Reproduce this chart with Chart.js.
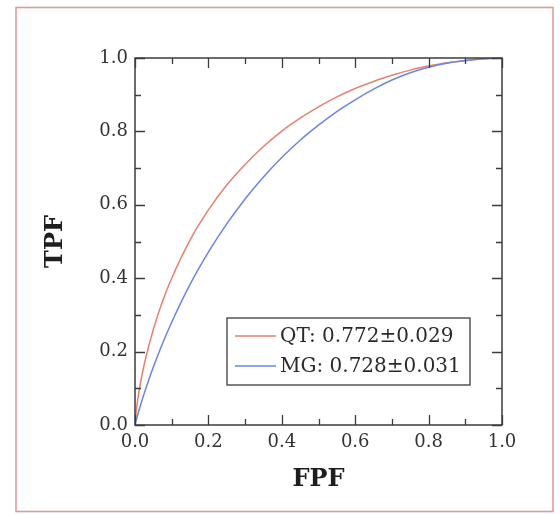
<!DOCTYPE html>
<html>
<head>
<meta charset="utf-8">
<script src="https://cdn.jsdelivr.net/npm/chart.js@4.4.1/dist/chart.umd.min.js"></script>
<style>
    html, body { margin: 0; padding: 0; background: #fff; }
    canvas { display: block; }
</style>
</head>
<body>
<canvas id="rocChart" width="560" height="514"></canvas>
<script>
// Points (FPF, TPF)
const fpfGrid = [0, 0.002, 0.005, 0.01, 0.02, 0.03, 0.05, 0.075, 0.1, 0.15, 0.2, 0.25, 0.3, 0.35,
    0.4, 0.45, 0.5, 0.55, 0.6, 0.65, 0.7, 0.75, 0.8, 0.85, 0.9, 0.95, 1.0];

const qtLabel = 'QT: 0.772\u00b10.029';
const qtTpf = [0, 0.025, 0.051, 0.086, 0.141, 0.186, 0.261, 0.337, 0.400, 0.504, 0.586, 0.654, 0.710, 0.759,
    0.801, 0.836, 0.867, 0.894, 0.917, 0.936, 0.953, 0.967, 0.978, 0.987, 0.993, 0.998, 1.0];

const mgLabel = 'MG: 0.728\u00b10.031';
const mgTpf = [0, 0.008, 0.019, 0.037, 0.070, 0.101, 0.158, 0.222, 0.280, 0.383, 0.471, 0.548, 0.616, 0.676,
    0.729, 0.776, 0.817, 0.854, 0.886, 0.915, 0.940, 0.960, 0.975, 0.986, 0.993, 0.998, 1.0];

const tickValues = [0, 0.1, 0.2, 0.3, 0.4, 0.5, 0.6, 0.7, 0.8, 0.9, 1.0];

const qtColor = '#e4826e';
const mgColor = '#6a86e0';
const axisColor = '#3c3c3c';
const serif = "'DejaVu Serif', 'Liberation Serif', serif";

function toPoints(xs, ys) {
    return xs.map((x, i) => ({ x: x, y: ys[i] }));
}

// Cadre rose, cadre du graphique et graduations vers l'intérieur
const framePlugin = {
    id: 'framePlugin',
    beforeDraw(chart) {
        const ctx = chart.ctx;
        ctx.save();
        ctx.fillStyle = '#ffffff';
        ctx.fillRect(0, 0, chart.width, chart.height);
        ctx.strokeStyle = '#e09a9a';
        ctx.lineWidth = 1.6;
        ctx.strokeRect(16, 7.5, 537, 504);
        ctx.restore();
    },
    afterDatasetsDraw(chart) {
        const ctx = chart.ctx;
        const a = chart.chartArea;
        const xs = chart.scales.x;
        const ys = chart.scales.y;
        ctx.save();
        ctx.strokeStyle = axisColor;
        ctx.lineWidth = 1.3;
        ctx.beginPath();
        tickValues.forEach((v, i) => {
            const len = i % 2 === 0 ? 10 : 6;
            const px = Math.round(xs.getPixelForValue(v)) + 0.5;
            const py = Math.round(ys.getPixelForValue(v)) + 0.5;
            ctx.moveTo(px, a.bottom); ctx.lineTo(px, a.bottom - len);
            ctx.moveTo(px, a.top); ctx.lineTo(px, a.top + len);
            ctx.moveTo(a.left, py); ctx.lineTo(a.left + len, py);
            ctx.moveTo(a.right, py); ctx.lineTo(a.right - len, py);
        });
        ctx.stroke();
        ctx.lineWidth = 1.5;
        ctx.strokeRect(a.left, a.top, a.right - a.left, a.bottom - a.top);
        ctx.restore();
    },
    afterDraw(chart) {
        // Légende encadrée dans la zone du graphique
        const ctx = chart.ctx;
        ctx.save();
        ctx.fillStyle = '#ffffff';
        ctx.fillRect(227, 318, 243, 67);
        ctx.strokeStyle = '#4a4a4a';
        ctx.lineWidth = 1.4;
        ctx.strokeRect(227, 318, 243, 67);
        ctx.font = '20px ' + serif;
        ctx.textBaseline = 'middle';
        ctx.fillStyle = '#2a2a2a';
        chart.data.datasets.forEach((ds, i) => {
            const y = 336 + i * 30;
            ctx.strokeStyle = ds.borderColor;
            ctx.lineWidth = 1.5;
            ctx.beginPath();
            ctx.moveTo(235, y);
            ctx.lineTo(276, y);
            ctx.stroke();
            ctx.fillText(ds.label, 280, y + 1);
        });
        ctx.restore();
    }
};

const ctx = document.getElementById('rocChart').getContext('2d');
new Chart(ctx, {
    type: 'line',
    data: {
        datasets: [{
            label: qtLabel,
            data: toPoints(fpfGrid, qtTpf),
            borderColor: qtColor,
            borderWidth: 1.5,
            pointRadius: 0,
            cubicInterpolationMode: 'monotone',
            fill: false,
            order: 1
        }, {
            label: mgLabel,
            data: toPoints(fpfGrid, mgTpf),
            borderColor: mgColor,
            borderWidth: 1.5,
            pointRadius: 0,
            cubicInterpolationMode: 'monotone',
            fill: false,
            order: 0
        }]
    },
    options: {
        responsive: false,
        animation: false,
        layout: {
            padding: { left: 0, top: 58, right: 58, bottom: 0 }
        },
        plugins: {
            legend: { display: false },
            tooltip: { enabled: false }
        },
        scales: {
            x: {
                type: 'linear',
                min: 0,
                max: 1,
                grid: { display: false, drawTicks: false },
                border: { display: false },
                ticks: {
                    stepSize: 0.2,
                    padding: 7,
                    color: '#333',
                    font: { family: serif, size: 18 },
                    callback: v => v.toFixed(1)
                },
                title: {
                    display: true,
                    text: 'FPF',
                    color: '#1e1e1e',
                    font: { family: serif, size: 24, weight: 'bold' },
                    padding: { top: 0, bottom: 20 }
                },
                afterFit: scale => { scale.height = 89; }
            },
            y: {
                type: 'linear',
                min: 0,
                max: 1,
                grid: { display: false, drawTicks: false },
                border: { display: false },
                ticks: {
                    stepSize: 0.2,
                    padding: 7,
                    color: '#333',
                    font: { family: serif, size: 18 },
                    callback: v => v.toFixed(1)
                },
                title: {
                    display: true,
                    text: 'TPF',
                    color: '#1e1e1e',
                    font: { family: serif, size: 24, weight: 'bold' },
                    padding: { top: 41, bottom: 0 }
                },
                afterFit: scale => { scale.width = 135; }
            }
        }
    },
    plugins: [framePlugin]
});
</script>
</body>
</html>
